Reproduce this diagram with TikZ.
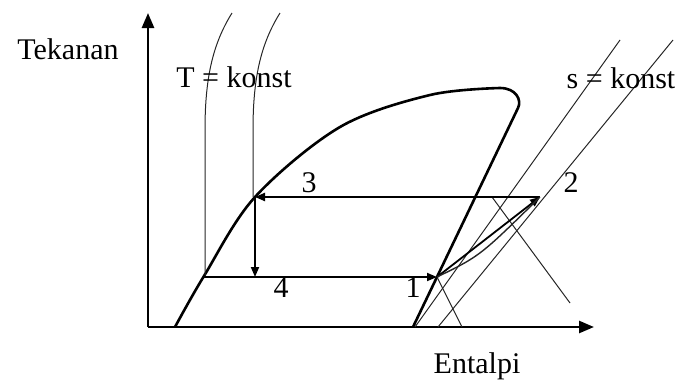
\documentclass[tikz,border=0pt]{standalone}
\usepackage{fontspec}
\setmainfont{Liberation Serif}
\usepackage{tikz}
\usetikzlibrary{arrows.meta}

\begin{document}
\begin{tikzpicture}[
    x=1pt, y=-1pt,
    axis/.style={line width=2.6pt, -{Triangle[length=15pt, width=12pt]}},
    dome/.style={line width=2.6pt, line join=round},
    cyc/.style={line width=2.2pt, -{Triangle[length=10pt, width=8pt]}},
    iso/.style={line width=1pt, black!85},
    lbl/.style={font=\fontsize{30}{34}\selectfont, inner sep=0pt, anchor=base}
]
\useasboundingbox (0,0) rectangle (680,381);

% axes
\coordinate (o)  at (148,327);
\coordinate (py) at (148,13);
\coordinate (px) at (594,327);
\draw[axis] (o) -- (py);
\draw[axis] (o) -- (px);

% state points
\coordinate (p1) at (437,277);
\coordinate (p2) at (540,197);
\coordinate (p3) at (255,197);
\coordinate (p4) at (255,277);
\coordinate (l4) at (204,277);

% saturation dome
\draw[dome] plot[smooth, tension=0.55] coordinates {(175,327) (204,276) (255,197) (340,127) (430,95) (500,88)}
    .. controls (516,88) and (522,100) .. (518,108) -- (413,327);

% T = konst
\coordinate (ta) at (232,13);
\coordinate (tb) at (280,13);
\draw[iso] (ta) .. controls (212,45) and (205,80) .. (205,130) -- (205,275);
\draw[iso] (tb) .. controls (260,45) and (253,80) .. (253,130) -- (253,197);
\draw[iso] (p1) -- (462,327);
\draw[iso] (492,197) -- (570,303);

% s = konst
\coordinate (sa) at (620,40);
\coordinate (sb) at (673,40);
\draw[iso] (sa) -- (415,327);
\draw[iso] (sb) -- (438,327);

% cycle
\draw[cyc] (p2) -- (p3);
\draw[cyc, line width=1.8pt] (p3) -- (p4);
\draw[cyc, line width=1.8pt] (l4) -- (p1);
\draw[cyc, line width=1.8pt] (p1) -- (p2);
\draw[iso, line width=1.4pt] (p1) .. controls (480,256) .. (p2);

% labels
\node[lbl] (tekanan) at (68,59)   {Tekanan};
\node[lbl] (entalpi) at (477,373) {Entalpi};
\node[lbl] (tkonst)  at (234,87)  {T = konst};
\node[lbl] (skonst)  at (621,88)  {s = konst};
\node[lbl] (n3) at (309,192) {3};
\node[lbl] (n4) at (281,297) {4};
\node[lbl] (n1) at (413,297) {1};
\node[lbl] (n2) at (571,192) {2};
\end{tikzpicture}
\end{document}
